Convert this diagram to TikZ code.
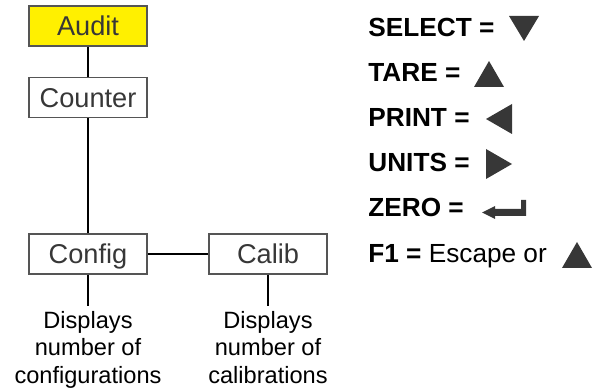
\documentclass[tikz,border=0pt]{standalone}
\usepackage{fontspec}
\setmainfont{Liberation Sans}

\definecolor{audityellow}{RGB}{255,240,0}
\definecolor{boxgray}{RGB}{85,85,85}
\definecolor{keygray}{RGB}{55,55,55}

\tikzset{
  menubox/.style={draw=boxgray, line width=0.8pt, minimum width=59pt,
    minimum height=20pt, inner sep=0pt, text=keygray,
    text height=9.74pt, text depth=0pt,
    font=\fontsize{13.6}{16}\selectfont},
  note/.style={align=center, inner xsep=0pt, inner ysep=2.5pt, anchor=north,
    font=\fontsize{11.8}{13.75}\selectfont},
  link/.style={line width=0.75pt},
  keyname/.style={anchor=base west, inner sep=0pt,
    font=\fontsize{13.1}{15}\selectfont},
  keyfill/.style={fill=keygray}
}

\begin{document}
\begin{tikzpicture}[x=0.5pt,y=-0.5pt]
  \useasboundingbox (0,0) rectangle (594,389);

  % menu tree
  \node[menubox, fill=audityellow] (audit) at (88,26) {Audit};
  \node[menubox] (counter) at (88,97.5) {Counter};
  \node[menubox] (config) at (88,254) {Config};
  \node[menubox] (calib) at (268,254) {Calib};
  \node[note] (cfgnote) at (88,306) {Displays\\number of\\configurations};
  \node[note] (calnote) at (268,306) {Displays\\number of\\calibrations};

  \draw[link] (audit.south) -- (counter.north);
  \draw[link] (counter.south) -- (config.north);
  \draw[link] (config.east) -- (calib.west);
  \draw[link] (config.south) -- (cfgnote.north);
  \draw[link] (calib.south) -- (calnote.north);

  % key legend
  \node[keyname] (select) at (368,36.5) {\textbf{SELECT =}};
  \node[keyname] (tare) at (368,82) {\textbf{TARE =}};
  \node[keyname] (print) at (368,127) {\textbf{PRINT =}};
  \node[keyname] (units) at (368,172) {\textbf{UNITS =}};
  \node[keyname] (zero) at (368,217) {\textbf{ZERO =}};
  \node[keyname] (fone) at (368,263) {\textbf{F1 =} Escape or};

  \fill[keyfill] (509,16) -- (539,16) -- (524,41) -- cycle;
  \fill[keyfill] (474,87) -- (504,87) -- (489,61) -- cycle;
  \fill[keyfill] (486,119) -- (512,104) -- (512,134) -- cycle;
  \fill[keyfill] (512,164) -- (486,149) -- (486,179) -- cycle;
  \fill[keyfill] (482,212.5) -- (495,206) -- (495,209) -- (521,209) -- (521,200)
    -- (526,200) -- (526,216) -- (495,216) -- (495,219) -- cycle;
  \fill[keyfill] (562,268) -- (592,268) -- (577,242) -- cycle;
\end{tikzpicture}
\end{document}
